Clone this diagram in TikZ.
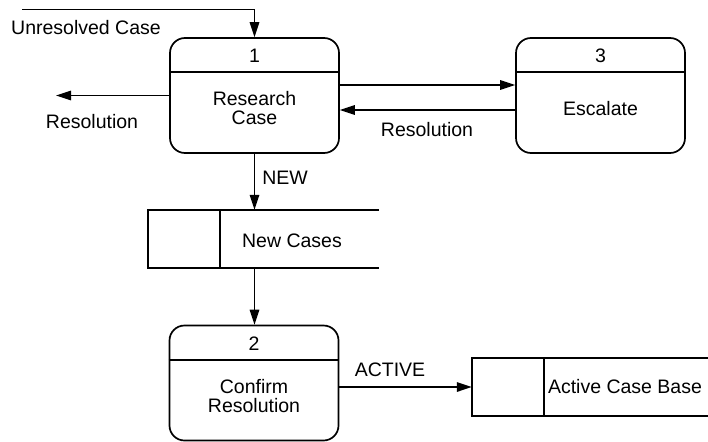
\documentclass[tikz,border=0pt]{standalone}
\usepackage{fontspec}
\setmainfont{Liberation Sans}
\usetikzlibrary{arrows.meta}
\tikzset{
  proc/.style={draw, line width=1.7pt, rounded corners=15pt, minimum width=169pt, minimum height=115pt, inner sep=0pt},
  storebox/.style={inner sep=0pt, minimum width=#1, minimum height=58pt},
  flow/.style={line width=1.6pt, -{Triangle[length=15pt,width=9.5pt]}},
  lbl/.style={font=\fontsize{19.5}{21}\selectfont, inner sep=0pt, align=center},
  edge/.style={line width=1.7pt}
}
\begin{document}
\begin{tikzpicture}[x=1pt,y=-1pt]
\useasboundingbox (0,0) rectangle (708,441);

% processes
\node[proc] (b1) at (254.5,95.5) {};
\node[proc] (b3) at (600.5,95.5) {};
\node[proc] (b2) at (254,383) {};
\foreach \b/\n in {b1/1,b3/3,b2/2}{
  \draw[edge] ([yshift=-35pt]\b.north west) -- ([yshift=-35pt]\b.north east);
  \node[lbl] at ([yshift=-19pt]\b.north) {\n};
}
\node[lbl] at ([yshift=-13pt]b1.center) {Research\\[-2pt]Case};
\node[lbl] at ([yshift=-13pt]b3.center) {Escalate};
\node[lbl] at ([yshift=-13pt]b2.center) {Confirm\\[-2pt]Resolution};

% data stores
\node[storebox=231pt] (s1) at (263.5,239) {};
\draw[edge] (s1.north east) -- (s1.north west) -- (s1.south west) -- (s1.south east);
\draw[edge] ([xshift=72pt]s1.north west) -- ([xshift=72pt]s1.south west);
\node[lbl] at (292,241) {New Cases};

\node[storebox=236pt] (s2) at (590,387) {};
\draw[edge] (s2.north east) -- (s2.north west) -- (s2.south west) -- (s2.south east);
\draw[edge] ([xshift=72pt]s2.north west) -- ([xshift=72pt]s2.south west);
\node[lbl] at (625,387) {Active Case Base};

% flows
\coordinate (src) at (22,9.5);
\coordinate (sink) at (56,95.5);
\draw[flow] (src) -- (b1.north |- src) -- (b1.north);
\node[lbl] at (86,28) {Unresolved Case};
\draw[flow] (b1.west) -- (sink);
\node[lbl] at (92,122) {Resolution};
\draw[flow] ([yshift=10.5pt]b1.east) -- ([yshift=10.5pt]b3.west);
\draw[flow] ([yshift=-14.5pt]b3.west) -- ([yshift=-14.5pt]b1.east);
\node[lbl] at (427,130) {Resolution};
\draw[flow] (b1.south) -- (b1.south |- s1.north);
\node[lbl] at (285,178) {NEW};
\draw[flow] (b1.south |- s1.south) -- (b1.south |- b2.north);
\draw[flow] (b2.east |- s2.west) -- (s2.west);
\node[lbl] at (390,370) {ACTIVE};
\end{tikzpicture}
\end{document}
